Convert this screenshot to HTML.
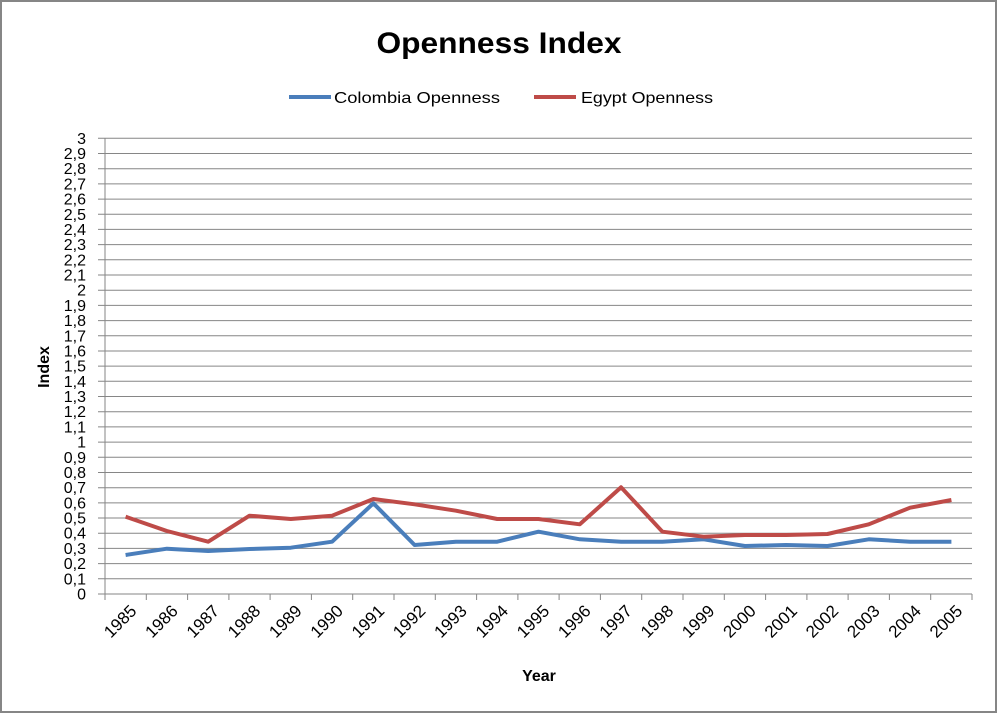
<!DOCTYPE html>
<html><head><meta charset="utf-8"><style>body{margin:0;background:#fff}svg{display:block}</style></head><body>
<svg width="997" height="713" xmlns="http://www.w3.org/2000/svg" font-family="Liberation Sans, DejaVu Sans, sans-serif">
<rect x="1" y="1" width="995" height="711" fill="#fff" stroke="#868686" stroke-width="2"/>
<text x="499" y="53" text-anchor="middle" font-size="30" font-weight="bold" textLength="245" lengthAdjust="spacingAndGlyphs">Openness Index</text>
<line x1="289" y1="97" x2="331" y2="97" stroke="#4a7ebb" stroke-width="4"/>
<text x="334" y="103" font-size="16" textLength="166" lengthAdjust="spacingAndGlyphs">Colombia Openness</text>
<line x1="534" y1="97" x2="576" y2="97" stroke="#be4b48" stroke-width="4"/>
<text x="581" y="103" font-size="16" textLength="132" lengthAdjust="spacingAndGlyphs">Egypt Openness</text>
<g id="grid" stroke="#868686" stroke-width="1"></g>
<g id="lbl" font-size="16"></g>
<line x1="105" y1="138" x2="105" y2="594" stroke="#868686"/>
<polyline fill="none" stroke="#4a7ebb" stroke-width="4" stroke-linejoin="round" id="c"/>
<polyline fill="none" stroke="#be4b48" stroke-width="4" stroke-linejoin="round" id="e"/>
<text x="0" y="0" font-size="16" font-weight="bold" transform="translate(49,367) rotate(-90)" text-anchor="middle">Index</text>
<text x="539" y="681" font-size="16" font-weight="bold" text-anchor="middle">Year</text>
</svg>
<script>
var ns="http://www.w3.org/2000/svg",g=document.getElementById('grid'),l=document.getElementById('lbl');
function el(p,t,a,txt){var e=document.createElementNS(ns,t);for(var k in a)e.setAttribute(k,a[k]);if(txt!=null)e.textContent=txt;p.appendChild(e);return e;}
for(var i=0;i<=30;i++){var y=594-i*15.19;el(g,'line',{x1:98,y1:y.toFixed(1),x2:972,y2:y.toFixed(1)});
var s=i%10==0?String(i/10):(Math.floor(i/10)+','+(i%10));el(l,'text',{x:86,y:(y+5.5).toFixed(1),'text-anchor':'end'},s);}
var w=867/21;
for(var i=0;i<=21;i++){var x=105+i*w;el(g,'line',{x1:x.toFixed(1),y1:594,x2:x.toFixed(1),y2:600});}
for(var i=0;i<21;i++){var x=105+w*(i+0.5)+12;el(l,'text',{x:0,y:0,'text-anchor':'end','font-size':'17',transform:'translate('+x.toFixed(1)+',612) rotate(-45)'},String(1985+i));}
var C=[555,548.7,551,549,547.7,541.7,503.3,545,541.7,541.7,531.7,539.3,541.7,541.7,539.3,546,545,546,539.3,541.7,541.7];
var E=[516.7,531,541.7,515.7,519,515.7,499,504.3,510.7,519,519,524.3,487.3,531.7,536.7,535,535,534,524.3,507.7,500];
function pts(a){return a.map(function(v,i){return (105+w*(i+0.5)).toFixed(1)+','+v}).join(' ');}
document.getElementById('c').setAttribute('points',pts(C));
document.getElementById('e').setAttribute('points',pts(E));
</script>
</body></html>
